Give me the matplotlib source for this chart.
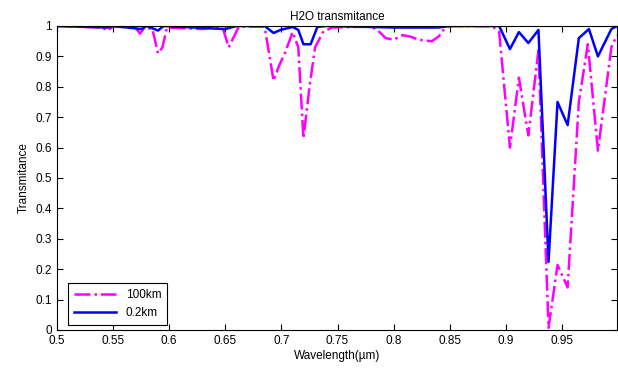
import numpy as np
import matplotlib
matplotlib.use('Agg')
import matplotlib.pyplot as plt

# 100km path
wl_100 = [0.5, 0.54, 0.545, 0.55, 0.57, 0.574, 0.578, 0.585, 0.59, 0.594, 0.598,
          0.63, 0.64, 0.648, 0.653, 0.657, 0.662, 0.685, 0.693, 0.698, 0.703,
          0.71, 0.715, 0.7196, 0.725, 0.73, 0.737, 0.745, 0.78, 0.786, 0.793,
          0.8, 0.808, 0.815, 0.822, 0.828, 0.834, 0.84, 0.845, 0.85, 0.888,
          0.894, 0.9036, 0.9116, 0.92, 0.929, 0.938, 0.946, 0.955, 0.965,
          0.973, 0.982, 0.994, 0.999]
t_100 = [1.0, 0.995, 0.985, 0.998, 0.995, 0.975, 0.995, 0.99, 0.91, 0.93, 0.995,
         0.99, 0.995, 0.99, 0.93, 0.96, 0.998, 0.998, 0.82, 0.87, 0.91,
         0.98, 0.93, 0.63, 0.80, 0.93, 0.98, 0.995, 0.998, 0.985, 0.96,
         0.955, 0.97, 0.965, 0.955, 0.952, 0.95, 0.965, 0.99, 1.0, 0.999,
         0.98, 0.60, 0.83, 0.64, 0.92, 0.007, 0.214, 0.14, 0.75,
         0.94, 0.59, 0.93, 0.97]

# 0.2km path
wl_02 = [0.5, 0.545, 0.55, 0.575, 0.58, 0.59, 0.595, 0.65, 0.66, 0.685, 0.693,
         0.699, 0.71, 0.715, 0.7196, 0.726, 0.732, 0.74, 0.8, 0.84, 0.85,
         0.894, 0.9036, 0.9116, 0.92, 0.929, 0.938, 0.946, 0.955, 0.965,
         0.974, 0.982, 0.994, 0.999]
t_02 = [1.0, 0.995, 1.0, 0.99, 1.0, 0.985, 1.0, 0.99, 1.0, 1.0, 0.977,
        0.987, 0.997, 0.987, 0.94, 0.94, 0.997, 1.0, 0.995, 0.995, 1.0,
        1.0, 0.924, 0.98, 0.944, 0.987, 0.224, 0.75, 0.674, 0.96,
        0.99, 0.90, 0.99, 1.0]

xticks = [0.5, 0.55, 0.6, 0.65, 0.7, 0.75, 0.8, 0.85, 0.9, 0.95]
xlabels = ['0.5', '0.55', '0.6', '0.65', '0.7', '0.75', '0.8', '0.85', '0.9', '0.95']
yticks = [0, 0.1, 0.2, 0.3, 0.4, 0.5, 0.6, 0.7, 0.8, 0.9, 1]
ylabels = ['0', '0.1', '0.2', '0.3', '0.4', '0.5', '0.6', '0.7', '0.8', '0.9', '1']

plt.rcParams['font.family'] = ['Liberation Sans', 'DejaVu Sans']
fig = plt.figure(figsize=(6.18, 3.71), dpi=100)
ax = fig.add_axes([57/618, 41/371, 560/618, 304/371])

ax.plot(wl_100, t_100, '-.', color='#FF00FF', lw=1.8, label='100km')
ax.plot(wl_02, t_02, '-', color='#0000FF', lw=1.8, label='0.2km')

ax.set_xlim(0.5, 0.999)
ax.set_ylim(0, 1)
ax.set_xticks(xticks)
ax.set_xticklabels(xlabels)
ax.set_yticks(yticks)
ax.set_yticklabels(ylabels)
ax.tick_params(direction='in', length=4, labelsize=8.5, top=True, right=True, width=0.8)
for s in ax.spines.values():
    s.set_linewidth(0.8)

ax.set_title('H2O transmitance', fontsize=8.5, pad=4)
ax.set_xlabel('Wavelength(\u00b5m)', fontsize=8.5, labelpad=2)
ax.set_ylabel('Transmitance', fontsize=8.5, labelpad=4)

leg = ax.legend(loc='lower left', bbox_to_anchor=(11/560, 5/304), borderaxespad=0,
                fontsize=8.5, fancybox=False, edgecolor='black',
                handlelength=3.6, borderpad=0.5, framealpha=1)
leg.get_frame().set_linewidth(0.8)

fig.savefig('out.png', dpi=100)
